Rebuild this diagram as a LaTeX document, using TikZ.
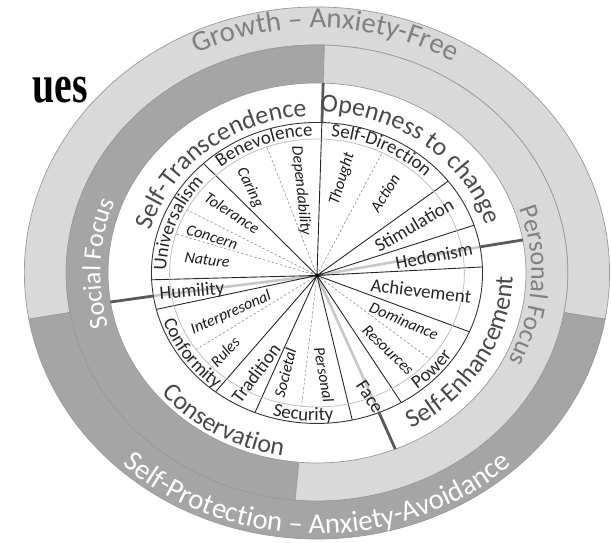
\documentclass[tikz,border=0pt]{standalone}
\usepackage{fontspec}
\setmainfont{Carlito}
\newfontfamily\titlefont{Liberation Serif}
\usetikzlibrary{decorations.text}
\definecolor{palering}{HTML}{D9D9D9}
\definecolor{deepring}{HTML}{A5A5A5}
\definecolor{paletext}{HTML}{808080}
\definecolor{hovtext}{HTML}{4A4A4A}
\definecolor{divider}{HTML}{5A5A5A}
\newcommand{\ringfont}{\fontsize{29}{29}\selectfont}
\newcommand{\focusfont}{\fontsize{26}{26}\selectfont}
\newcommand{\hovfont}{\fontsize{26}{26}\selectfont}
\newcommand{\valfont}{\fontsize{19}{19}\selectfont}
\newcommand{\subfont}{\fontsize{16}{16}\selectfont\itshape}

\begin{document}
\begin{tikzpicture}[x=1bp,y=1bp,xscale=1.1,
    curved/.style={decorate,decoration={text along path,text align=center,text={#1}}},
    val/.style={font=\valfont,text=black!85,inner sep=0pt},
    sub/.style={font=\subfont,text=black!90,inner sep=0pt},
    ringline/.style={draw=black!40,line width=0.7bp},
    spoke/.style={black!85,line width=0.9bp},
    subspoke/.style={black!45,line width=0.6bp,dash pattern=on 2.5bp off 2bp},
    split/.style={divider,line width=2.8bp},
    ghost/.style={black!22,line width=2.6bp}]
\useasboundingbox (-288.2,-270) rectangle (267.3,273);
\coordinate (hub) at (0,-2.5);
% outer ring and focus ring
\path[fill=palering,ringline] (-10:228) arc (-10:190:228) -- (190:266) arc (190:-10:266) -- cycle;
\path[fill=deepring,ringline] (190:228) arc (190:350:228) -- (350:266) arc (350:190:266) -- cycle;
\path[fill=deepring,ringline] (88.3:190) arc (88.3:265:190) -- (265:228) arc (265:88.3:228) -- cycle;
\path[fill=palering,ringline] (265:190) arc (265:448.3:190) -- (448.3:228) arc (448.3:265:228) -- cycle;
% spokes of the value wheel
\draw[ghost] (hub) -- (10:150.5) (hub) -- (188.8:150.5) (hub) -- (292:150.5);
\draw[subspoke] (hub) -- (63.8:134) (hub) -- (109.9:134) (hub) -- (151.9:134) (hub) -- (163.1:134)
  (hub) -- (214.9:134) (hub) -- (264:134) (hub) -- (320:134);
\draw[spoke] (hub) -- (88.3:150.5) (hub) -- (133.3:150.5) (hub) -- (182.6:150.5) (hub) -- (194:150.5)
  (hub) -- (232.2:150.5) (hub) -- (248:150.5) (hub) -- (282.3:150.5) (hub) -- (300.6:150.5)
  (hub) -- (337:150.5) (hub) -- (2.3:150.5) (hub) -- (18.5:150.5) (hub) -- (37.6:150.5);
\draw[black!25,line width=0.8bp] (0,0) circle (134);
\draw[black!80,line width=0.9bp] (0,0) circle (150.5);
\draw[split] (88.3:150.5) -- (88.3:190) (10:150.5) -- (10:190) (188.8:150.5) -- (188.8:190) (292:150.5) -- (292:190);
\fill[black] (hub) circle (1.8);

\path[curved={|\ringfont\color{paletext}|Growth – Anxiety-Free}] (148:245) arc (148:28:245);
\path[curved={|\ringfont\color{white}|Self-Protection – Anxiety-Avoidance}] (210:261) arc (210:330:261);
\path[curved={|\focusfont\color{white}|Social Focus}] (237.4:197) arc (237.4:117.4:197);
\path[curved={|\focusfont\color{paletext}|Personal Focus}] (56.5:195) arc (56.5:-63.5:195);

\path[curved={|\hovfont\color{hovtext}|Self-Transcendence}] (189.9:157) arc (189.9:69.9:157);
\path[curved={|\hovfont\color{hovtext}|Openness to change}] (112:161) arc (112:-8:161);
\path[curved={|\hovfont\color{hovtext}|Self-Enhancement}] (-89.9:178) arc (-89.9:30.1:178);
\path[curved={|\hovfont\color{hovtext}|Conservation}] (178.9:186) arc (178.9:298.9:186);

\path[curved={|\valfont\color{black!85}|Benevolence}] (151.2:137) arc (151.2:71.2:137);
\path[curved={|\valfont\color{black!85}|Self-Direction}] (103.8:137) arc (103.8:23.8:137);
\path[curved={|\valfont\color{black!85}|Universalism}] (199.4:137) arc (199.4:119.4:137);
\path[curved={|\valfont\color{black!85}|Conformity}] (174.5:148) arc (174.5:254.5:148);
\path[curved={|\valfont\color{black!85}|Security}] (224.8:148) arc (224.8:304.8:148);
\path[curved={|\valfont\color{black!85}|Power}] (-81.9:148) arc (-81.9:-1.9:148);

\node[val,rotate=5] (hum) at (189.5:115.2) {Humility};
\node[val,rotate=53] (tra) at (241:114.4) {Tradition};
\node[val,rotate=-57] (fac) at (291.2:133) {Face};
\node[val,rotate=-7] (ach) at (-10.8:96.2) {Achievement};
\node[val,rotate=11] (hed) at (9.1:107.7) {Hedonism};
\node[val,rotate=30.5] (sti) at (28.6:100.4) {Stimulation};

\node[sub,rotate=73] (tho) at (76.4:96.7) {Thought};
\node[sub,rotate=58] (act) at (52.3:101) {Action};
\node[sub,rotate=-64] (car) at (125.7:104.6) {Caring};
\node[sub,rotate=-84] (dep) at (100:83.3) {Dependability};
\node[sub,rotate=-33] (tol) at (142.2:97.8) {Tolerance};
\node[sub,rotate=-17] (con) at (159.3:102) {Concern};
\node[sub,rotate=-7] (nat) at (172.6:100.8) {Nature};
\node[sub,rotate=24] (int) at (207:87.8) {Interpresonal};
\node[sub,rotate=47] (rul) at (223.4:115) {Rules};
\node[sub,rotate=76] (soc) at (253.8:104) {Societal};
\node[sub,rotate=-80] (per) at (-86.4:102.2) {Personal};
\node[sub,rotate=-23] (dom) at (-31.3:92.5) {Dominance};
\node[sub,rotate=-44] (res) at (-50:100.5) {Resources};

\node[anchor=base west,inner sep=0pt,font=\titlefont\bfseries\fontsize{54}{54}\selectfont] (title) at (-259.1,170) {\scalebox{0.74}[1]{ues}};
\end{tikzpicture}
\end{document}
